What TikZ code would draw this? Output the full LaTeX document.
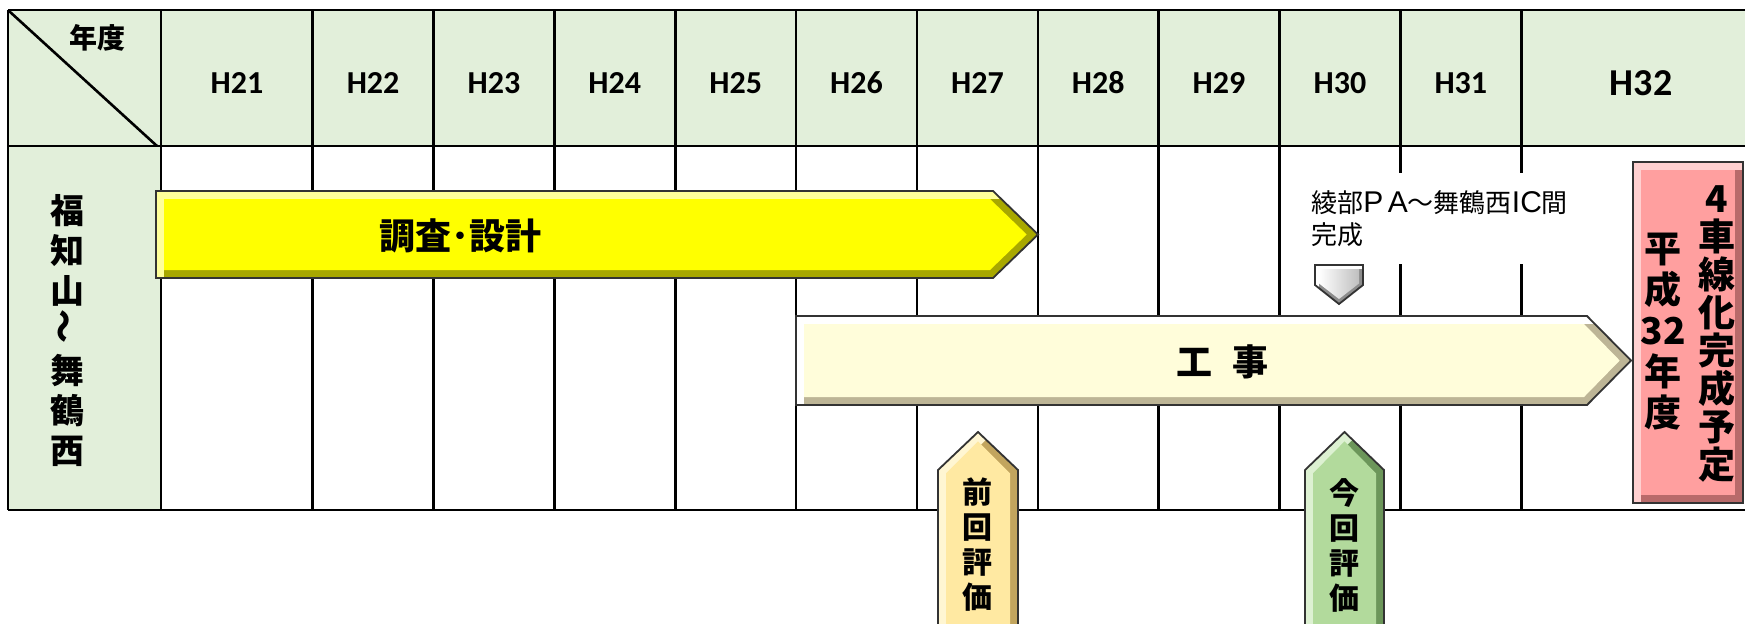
\documentclass[tikz,border=0pt]{standalone}
\usepackage{fontspec}
\usepackage{graphicx}
\setmainfont{Carlito}
\newfontfamily\jp{Noto Sans CJK JP}
\newfontfamily\ar{Liberation Sans}
\definecolor{hdr}{HTML}{E2EFDA}
\definecolor{ylwface}{HTML}{FFFF00}
\definecolor{ylwlight}{HTML}{FFFF9A}
\definecolor{ylwdark}{HTML}{A8A800}
\definecolor{crmface}{HTML}{FFFDDA}
\definecolor{crmlight}{HTML}{FFFFFF}
\definecolor{crmdark}{HTML}{BDB596}
\definecolor{pnkface}{HTML}{FF9F9F}
\definecolor{pnklight}{HTML}{FFD0D0}
\definecolor{pnkdark}{HTML}{B86A6A}
\definecolor{goldface}{HTML}{FFE9A2}
\definecolor{goldlight}{HTML}{FFF6D2}
\definecolor{golddark}{HTML}{C2A55E}
\definecolor{grnface}{HTML}{B2DA9C}
\definecolor{grnlight}{HTML}{DDF1D2}
\definecolor{grndark}{HTML}{6C965A}
\newcommand\bevelshape[6]{%
  \begin{scope}
    \clip #1;
    \fill[#3] #1;
    \fill[#4,shift={(#6,#6)}] #1;
    \path[#5] #2;
  \end{scope}
  \draw[edge] #1;}
\begin{document}
\begin{tikzpicture}[x=0.5pt,y=-0.5pt,
  gridline/.style={line width=1.3pt, black},
  edge/.style={line width=0.9pt, black!80},
  hlabel/.style={font=\bfseries\fontsize{16}{18}\selectfont},
  vstack/.style={align=center, inner sep=0pt},
]
\clip (0,0) rectangle (1745,623);
\fill[white] (0,0) rectangle (1745,623);
% table fills
\fill[hdr] (8,10) rectangle (1745,146);
\fill[hdr] (8,146) rectangle (161,510);
% grid
\draw[gridline] (8,10) -- (1745,10);
\draw[gridline] (8,146) -- (1745,146);
\draw[gridline] (8,510) -- (1745,510);
\draw[gridline] (8,10) -- (8,510);
\foreach \x in {161,312.7,433.55,554.4,675.25,796.1,916.95,1037.8,1158.65,1279.5,1400.35,1521.2}
  \draw[gridline] (\x,10) -- (\x,510);
\draw[gridline] (9,11) -- (157,146);
% header labels
\node[font=\jp\bfseries\fontsize{14}{16}\selectfont] (nendo) at (97,38) {年度};
\foreach \c/\t [count=\i] in {237/H21,373.1/H22,494/H23,614.8/H24,735.7/H25,856.5/H26,977.4/H27,1098.2/H28,1219/H29,1339.9/H30,1460.8/H31}
  \node[hlabel] (h\i) at (\c,83) {\t};
\node[font=\bfseries\fontsize{19}{21}\selectfont] (h12) at (1641,83) {H32};
% left label
\node[vstack, font=\jp\bfseries\fontsize{17}{20}\selectfont] (section) at (67,331)
  {福\\知\\山\\\rotatebox{90}{～}\\舞\\鶴\\西};
% white box behind milestone text
\fill[white] (1290,173) rectangle (1600,264);
\node[anchor=west, align=left, inner sep=0pt, font=\jp\fontsize{13}{16}\selectfont] (milestone) at (1311,219)
  {綾部{\ar\fontsize{15}{16}\selectfont P\hspace{0.15em}A}～舞鶴西{\ar\fontsize{15}{16}\selectfont IC}間\\完成};
% survey arrow
\bevelshape{(156,191) -- (993,191) -- (1038,234.5) -- (993,278) -- (156,278) -- cycle}
  {(164,199) -- (990,199) -- (1026.7,234.5) -- (990,270) -- (164,270) -- cycle}
  {ylwlight}{ylwdark}{fill=ylwface}{8}
\node[font=\jp\bfseries\fontsize{18}{20}\selectfont] (survey) at (460.5,235.5) {調査･設計};
% works arrow
\bevelshape{(796,316) -- (1587,316) -- (1631,360.5) -- (1587,405) -- (796,405) -- cycle}
  {(804,324) -- (1584,324) -- (1619.7,360.5) -- (1584,397) -- (804,397) -- cycle}
  {crmlight}{crmdark}{fill=crmface}{8}
\node[font=\jp\bfseries\fontsize{18}{20}\selectfont] (works) at (1222.5,361.5) {工\hspace{0.55em}事};
% milestone marker
\bevelshape{(1315,265) -- (1363,265) -- (1363,285) -- (1339,304) -- (1315,285) -- cycle}
  {(1319,269) -- (1359,269) -- (1359,283.5) -- (1339,299) -- (1319,283.5) -- cycle}
  {white}{black!45}{left color=white, right color=black!25}{4}
% evaluation arrows
\bevelshape{(938,470) -- (978,432) -- (1018,470) -- (1018,640) -- (938,640) -- cycle}
  {(946,473.4) -- (978,441.4) -- (1010,473.4) -- (1010,640) -- (946,640) -- cycle}
  {goldlight}{golddark}{fill=goldface}{8}
\node[vstack, font=\jp\bfseries\fontsize{15}{17.5}\selectfont] (prev) at (977,545) {前\\回\\評\\価};
\bevelshape{(1305,470) -- (1344.5,432) -- (1384,470) -- (1384,640) -- (1305,640) -- cycle}
  {(1313,473.4) -- (1344.5,441.4) -- (1376,473.4) -- (1376,640) -- (1313,640) -- cycle}
  {grnlight}{grndark}{fill=grnface}{8}
\node[vstack, font=\jp\bfseries\fontsize{15}{17.5}\selectfont] (curr) at (1344,545) {今\\回\\評\\価};
% completion box
\bevelshape{(1633,162) rectangle (1743,503)}
  {(1641,170) rectangle (1735,495)}
  {pnklight}{pnkdark}{fill=pnkface}{8}
\node[vstack, font=\jp\bfseries\fontsize{18.5}{19}\selectfont] (goal) at (1717,333.5)
  {4\\車\\線\\化\\完\\成\\予\\定};
\node[vstack, font=\jp\bfseries\fontsize{18.5}{20.4}\selectfont] (goalyear) at (1663,331.5)
  {平\\成\\32\\年\\度};
\end{tikzpicture}
\end{document}
